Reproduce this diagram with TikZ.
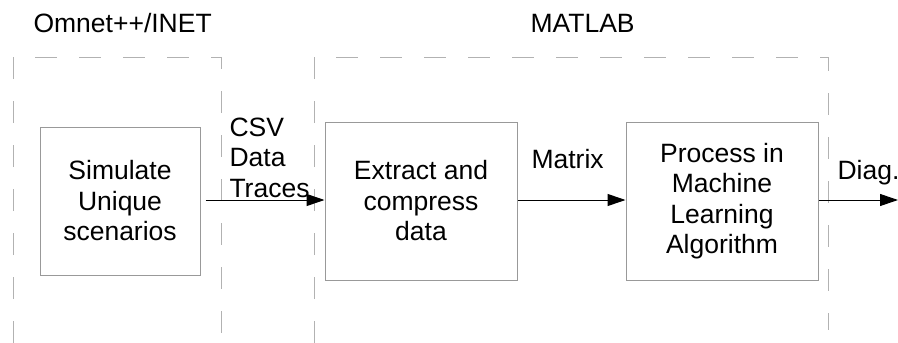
\documentclass[tikz,border=0pt]{standalone}
\usepackage{fontspec}
\setmainfont{Liberation Sans}
\usetikzlibrary{arrows.meta}

\begin{document}
\begin{tikzpicture}[x=1pt,y=-1pt,>={Triangle[length=18pt,width=12pt]},
    every node/.style={font=\fontsize{26.5}{30.5}\selectfont},
    block/.style={draw=gray!80,line width=1pt,align=center,inner sep=0pt},
    region/.style={draw=gray!60,line width=1pt,dash pattern=on 22pt off 22pt},
    flow/.style={->,line width=1pt}]
    \useasboundingbox (0,0) rectangle (898,343);

    % Tool regions
    \draw[region] (13,343) |- (221,57) -- (221,343);
    \draw[region] (314,343) |- (828,57) -- (828,330);
    \node[anchor=base west] (omnet) at (30,32) {Omnet++/INET};
    \node[anchor=base west] (matlab) at (527,32) {MATLAB};

    % Processing steps
    \node[block,minimum width=160pt,minimum height=148pt] (sim) at (120,201)
        {Simulate\\Unique\\scenarios};
    \node[block,minimum width=192pt,minimum height=158pt] (extract) at (421,201)
        {Extract and\\compress\\data};
    \node[block,minimum width=192pt,minimum height=158pt] (process) at (722,201)
        {Process in\\Machine\\Learning\\Algorithm};
    \coordinate (out) at (898,200);

    % Data flow
    \draw[flow] ([xshift=5pt,yshift=1pt]sim.east) -- ([yshift=1pt]extract.west);
    \draw[flow] ([yshift=1pt]extract.east) -- ([yshift=1pt]process.west);
    \draw[flow] ([yshift=1pt]process.east) -- (out);
    \node[anchor=base west,align=left] (csv) at (226,197) {CSV\\Data\\Traces};
    \node[anchor=base west] (matrix) at (528,168) {Matrix};
    \node[anchor=base west] (diag) at (834,179) {Diag.};
\end{tikzpicture}
\end{document}
